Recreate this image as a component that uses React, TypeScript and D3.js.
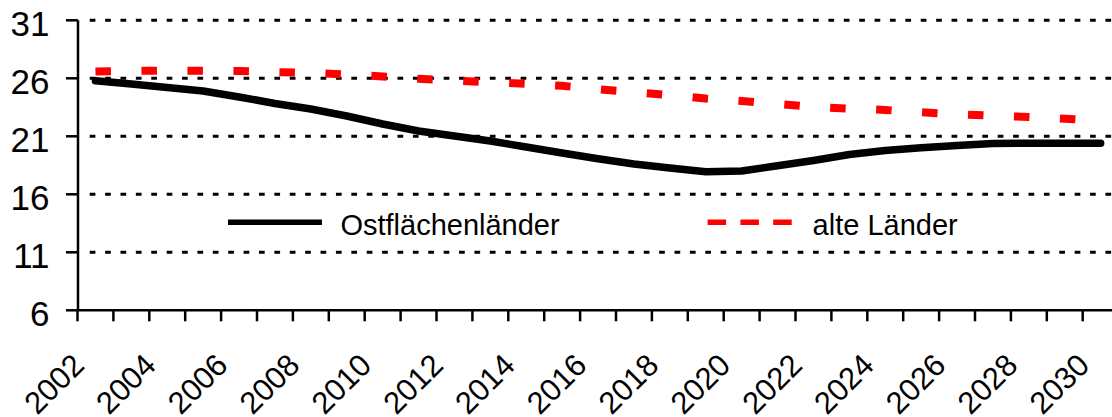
import React from "react";
import * as d3 from "d3";

const years: number[] = [
  2002, 2003, 2004, 2005, 2006, 2007, 2008, 2009, 2010, 2011, 2012, 2013, 2014, 2015, 2016,
  2017, 2018, 2019, 2020, 2021, 2022, 2023, 2024, 2025, 2026, 2027, 2028, 2029, 2030,
];

const ostflaechenlaender: number[] = [
  25.79, 25.5, 25.2, 24.91, 24.39, 23.83, 23.35, 22.75, 22.06, 21.46, 21.03, 20.59, 20.08, 19.56,
  19.07, 18.61, 18.27, 17.95, 18.01, 18.46, 18.92, 19.43, 19.78, 20.01, 20.21, 20.38, 20.4, 20.4,
  20.4,
];

const alteLaender: number[] = [
  26.58, 26.64, 26.66, 26.65, 26.63, 26.54, 26.46, 26.33, 26.16, 25.96, 25.81, 25.66, 25.53, 25.35,
  25.06, 24.8, 24.54, 24.26, 24.05, 23.78, 23.54, 23.39, 23.27, 23.07, 22.91, 22.77, 22.67, 22.52,
  22.36,
];

const yTicks: number[] = [6, 11, 16, 21, 26, 31];
const xLabelYears: number[] = years.filter((y) => (y - 2002) % 2 === 0);

const seriesNames: string[] = ["Ostflächenländer", "alte Länder"];

const FONT = "'Liberation Sans', Arial, Helvetica, sans-serif";

export default function App() {
  const W = 1112;
  const H = 417;
  const x0 = 77.5;
  const band = 35.9;
  const x = d3
    .scaleBand<number>()
    .domain(years)
    .range([x0, x0 + band * years.length])
    .padding(0);
  const y = d3.scaleLinear().domain([6, 31]).range([310.3, 20.3]);
  const cx = (yr: number) => (x(yr) as number) + x.bandwidth() / 2;

  const line = d3
    .line<number>()
    .x((_, i) => cx(years[i]))
    .y((v) => y(v));

  const xEnd = x0 + band * years.length;
  const boundaries = d3.range(years.length + 1).map((k) => x0 + k * band);

  return (
    <svg
      width={W}
      height={H}
      style={{ position: "absolute", left: 0, top: 0, background: "#fff" }}
      fontFamily={FONT}
    >
      <rect x={0} y={0} width={W} height={H} fill="#fff" />
      {/* gridlines */}
      {yTicks
        .filter((t) => t !== 6)
        .map((t) => (
          <line
            key={"g" + t}
            x1={80}
            x2={xEnd}
            y1={y(t)}
            y2={y(t)}
            stroke="#000"
            strokeWidth={3}
            strokeDasharray="5.7 9.69"
            strokeDashoffset={5.69}
          />
        ))}
      {/* series */}
      <path
        d={line(alteLaender) || ""}
        fill="none"
        stroke="#ff0000"
        strokeWidth={8}
        strokeDasharray="15.5 30.5"
      />
      <path
        d={line(ostflaechenlaender) || ""}
        fill="none"
        stroke="#000"
        strokeWidth={7.5}
        strokeLinecap="round"
        strokeLinejoin="round"
      />
      {/* axes */}
      <line x1={78} x2={78} y1={y(31)} y2={y(6)} stroke="#000" strokeWidth={2.5} />
      <line x1={78} x2={xEnd} y1={y(6)} y2={y(6)} stroke="#000" strokeWidth={2.5} />
      {yTicks.map((t) => (
        <g key={"yt" + t}>
          <line x1={66} x2={78} y1={y(t)} y2={y(t)} stroke="#000" strokeWidth={2.5} />
          <text x={49.5} y={y(t) + 16} textAnchor="end" fontSize={35} fill="#000">
            {t}
          </text>
        </g>
      ))}
      {boundaries.map((bx, i) => (
        <line key={"xt" + i} x1={bx} x2={bx} y1={y(6)} y2={y(6) + 11} stroke="#000" strokeWidth={2.5} />
      ))}
      {xLabelYears.map((yr) => {
        const ax = cx(yr) - 9.5;
        const ay = 367;
        return (
          <text
            key={"xl" + yr}
            x={ax}
            y={ay}
            textAnchor="end"
            fontSize={31}
            fill="#000"
            transform={`rotate(-45 ${ax} ${ay})`}
          >
            {yr}
          </text>
        );
      })}
      {/* legend */}
      <line x1={228} x2={322} y1={222.3} y2={222.3} stroke="#000" strokeWidth={5.5} />
      <text x={340.4} y={235} fontSize={29} fill="#000">
        {seriesNames[0]}
      </text>
      <line
        x1={707.6}
        x2={791.8}
        y1={222.3}
        y2={222.3}
        stroke="#ff0000"
        strokeWidth={5.5}
        strokeDasharray="18.5 14.3"
      />
      <text x={812.6} y={235} fontSize={29} fill="#000">
        {seriesNames[1]}
      </text>
    </svg>
  );
}
